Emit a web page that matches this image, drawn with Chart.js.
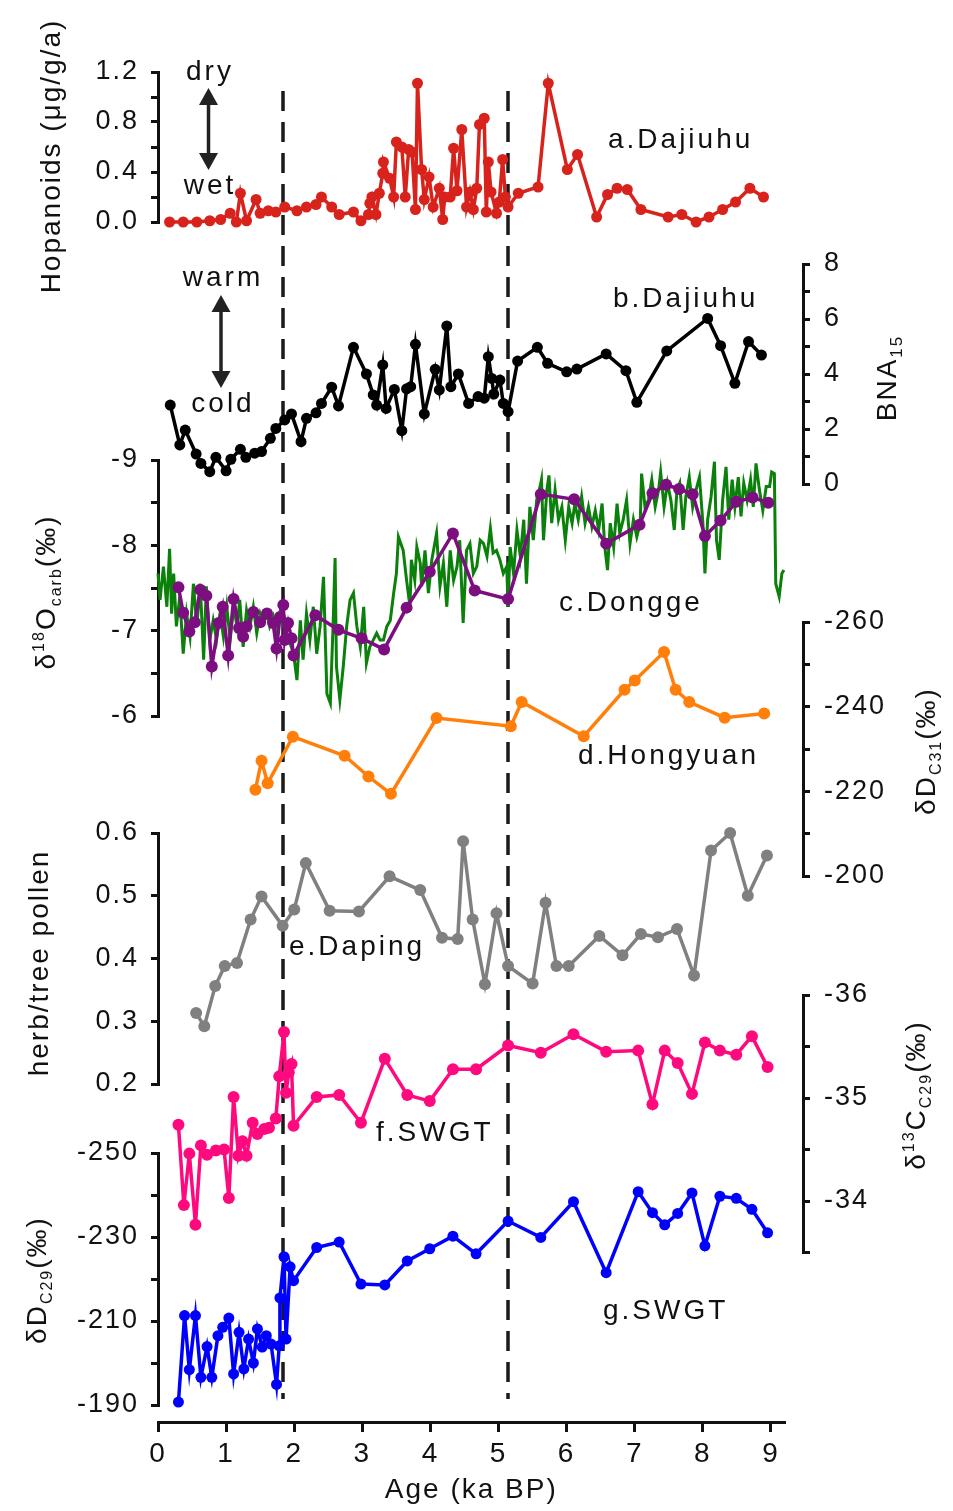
<!DOCTYPE html>
<html>
<head>
<meta charset="utf-8">
<script src="https://cdn.jsdelivr.net/npm/chart.js@4.4.1/dist/chart.umd.min.js"></script>
<style>
  html, body { margin: 0; padding: 0; background: #fff; }
  #wrap { position: relative; width: 953px; height: 1511px; }
  #wrap canvas { position: absolute; left: 0; top: 0; }
</style>
</head>
<body>
<div id="wrap">
  <canvas id="cAxis" width="953" height="1511"></canvas>
  <canvas id="cA" width="953" height="1511"></canvas>
  <canvas id="cB" width="953" height="1511"></canvas>
  <canvas id="cC" width="953" height="1511"></canvas>
  <canvas id="cD" width="953" height="1511"></canvas>
  <canvas id="cE" width="953" height="1511"></canvas>
  <canvas id="cF" width="953" height="1511"></canvas>
  <canvas id="cG" width="953" height="1511"></canvas>
</div>
<script>
// ---- data (ages in ka BP) ----
const hopAge = [0.17,0.37,0.57,0.76,0.92,1.06,1.15,1.21,1.30,1.44,1.50,1.62,1.73,1.86,2.04,2.18,2.32,2.40,2.55,2.66,2.87,2.98,3.09,3.11,3.14,3.20,3.25,3.30,3.31,3.40,3.46,3.50,3.58,3.63,3.68,3.73,3.78,3.81,3.87,3.91,3.98,4.04,4.13,4.18,4.21,4.29,4.34,4.39,4.46,4.53,4.58,4.63,4.68,4.72,4.79,4.82,4.85,4.89,4.97,5.01,5.06,5.10,5.14,5.29,5.58,5.73,6.01,6.16,6.44,6.60,6.74,6.89,7.09,7.49,7.69,7.90,8.09,8.29,8.48,8.69,8.89];
const hopVal = [0.00,0.00,0.00,0.01,0.02,0.07,0.00,0.23,0.01,0.18,0.07,0.09,0.08,0.12,0.09,0.12,0.14,0.20,0.12,0.06,0.08,0.01,0.06,0.15,0.20,0.06,0.23,0.39,0.48,0.35,0.20,0.64,0.60,0.20,0.58,0.56,0.10,1.11,0.42,0.18,0.36,0.12,0.27,0.02,0.20,0.20,0.59,0.25,0.74,0.12,0.24,0.10,0.27,0.78,0.83,0.08,0.48,0.24,0.07,0.16,0.50,0.20,0.12,0.23,0.28,1.11,0.42,0.54,0.04,0.22,0.27,0.26,0.10,0.04,0.06,0.00,0.04,0.10,0.16,0.27,0.20];

const bnaAge = [0.18,0.32,0.40,0.56,0.63,0.76,0.85,1.00,1.07,1.21,1.29,1.42,1.52,1.65,1.73,1.86,1.96,2.10,2.18,2.32,2.40,2.55,2.65,2.87,3.06,3.16,3.21,3.30,3.35,3.47,3.58,3.65,3.71,3.78,3.91,4.07,4.13,4.24,4.30,4.41,4.56,4.70,4.79,4.85,4.90,4.93,5.02,5.07,5.14,5.28,5.57,5.72,6.00,6.15,6.58,6.87,7.03,7.47,8.07,8.26,8.47,8.67,8.86];
const bnaVal = [2.87,1.42,1.96,1.09,0.75,0.45,0.97,0.48,0.90,1.26,0.97,1.12,1.18,1.66,2.02,2.33,2.55,1.54,2.39,2.59,2.93,3.52,2.84,4.97,4.00,3.24,2.87,4.33,2.75,3.44,1.94,3.46,3.54,5.08,2.55,4.17,3.42,5.75,3.54,4.00,2.93,3.18,3.12,4.63,3.84,3.27,3.78,2.93,2.63,4.47,4.97,4.39,4.08,4.18,4.73,4.12,2.97,4.84,6.02,5.03,3.66,5.18,4.69];

const dgAge = [
  0.00,0.03,0.08,0.13,0.17,0.20,0.23,0.27,0.32,0.37,
  0.42,0.47,0.52,0.57,0.62,0.67,0.71,0.76,0.81,0.86,
  0.91,0.96,1.01,1.06,1.11,1.16,1.20,1.25,1.30,1.35,
  1.40,1.45,1.50,1.55,1.60,1.64,1.69,1.74,1.79,1.84,
  1.89,1.94,1.99,2.04,2.09,2.13,2.18,2.23,2.28,2.33,
  2.38,2.43,2.48,2.53,2.57,2.60,2.62,2.67,2.72,2.77,
  2.82,2.87,2.92,2.97,3.02,3.06,3.11,3.16,3.21,3.26,
  3.31,3.36,3.41,3.46,3.50,3.53,3.60,3.65,3.70,3.72,
  3.77,3.80,3.85,3.87,3.92,3.97,4.02,4.09,4.14,4.19,
  4.24,4.29,4.34,4.39,4.43,4.48,4.53,4.58,4.63,4.68,
  4.73,4.78,4.83,4.88,4.92,4.97,5.02,5.07,5.12,5.14,
  5.17,5.22,5.27,5.32,5.37,5.41,5.46,5.51,5.56,5.61,
  5.63,5.66,5.71,5.74,5.78,5.83,5.88,5.93,5.98,6.03,
  6.08,6.12,6.17,6.22,6.27,6.32,6.37,6.42,6.47,6.52,
  6.56,6.60,6.64,6.69,6.74,6.78,6.83,6.88,6.93,6.98,
  7.03,7.08,7.10,7.15,7.20,7.25,7.30,7.35,7.38,7.43,
  7.48,7.53,7.58,7.62,7.66,7.71,7.75,7.80,7.85,7.90,
  7.95,8.00,8.03,8.07,8.12,8.17,8.20,8.24,8.29,8.34,
  8.38,8.43,8.47,8.52,8.56,8.60,8.65,8.70,8.74,8.78,
  8.83,8.88,8.93,8.98,9.01,9.05,9.07,9.12,9.16,9.19];
const dgVal = [
  -7.67,-7.36,-7.75,-7.28,-7.96,-7.20,-7.67,-7.05,-7.40,-6.73,
  -7.20,-6.93,-7.55,-7.05,-7.55,-6.66,-7.52,-6.89,-7.12,-6.89,
  -7.20,-6.93,-7.28,-6.89,-7.28,-7.05,-7.36,-6.81,-7.24,-7.05,
  -7.28,-6.97,-7.20,-7.09,-7.20,-7.05,-7.16,-6.89,-7.20,-7.05,
  -6.97,-6.85,-6.73,-6.42,-7.12,-6.66,-7.20,-6.89,-7.28,-6.73,
  -7.05,-7.63,-6.26,-6.15,-7.05,-7.85,-6.58,-6.19,-6.58,-7.05,
  -7.36,-7.44,-7.05,-6.81,-7.28,-6.62,-6.81,-6.89,-6.97,-6.89,
  -6.89,-7.05,-7.12,-7.44,-7.67,-8.10,-7.94,-7.59,-7.28,-7.83,
  -7.59,-7.98,-7.79,-7.52,-7.94,-7.44,-7.83,-8.14,-7.52,-7.79,
  -7.28,-7.94,-7.59,-7.75,-8.06,-7.09,-7.94,-8.02,-7.67,-7.75,
  -8.06,-8.02,-7.87,-8.20,-7.91,-7.94,-7.83,-7.67,-7.75,-7.28,
  -7.98,-7.67,-8.18,-7.87,-8.30,-7.55,-8.45,-8.06,-8.53,-8.69,
  -8.77,-8.06,-8.65,-8.82,-8.26,-8.65,-8.30,-8.45,-8.06,-8.45,
  -8.26,-8.49,-8.30,-8.57,-8.26,-8.45,-8.22,-8.41,-8.18,-8.49,
  -7.98,-7.71,-8.26,-7.98,-8.49,-8.14,-8.30,-8.53,-8.02,-8.30,
  -8.10,-8.26,-8.84,-8.45,-8.53,-8.77,-8.45,-8.65,-8.86,-8.45,
  -8.73,-8.53,-8.18,-8.65,-8.73,-8.18,-8.57,-8.80,-8.45,-8.65,
  -8.80,-8.26,-7.67,-8.30,-8.57,-8.98,-8.06,-7.83,-8.53,-8.92,
  -8.30,-8.77,-8.45,-8.80,-8.34,-8.73,-8.53,-8.77,-8.45,-8.96,
  -8.65,-8.41,-8.69,-8.69,-8.86,-8.84,-7.55,-7.40,-7.67,-7.71];

const dgAvgAge = [0.30,0.37,0.46,0.54,0.62,0.71,0.79,0.89,0.95,1.03,1.11,1.19,1.25,1.30,1.40,1.50,1.60,1.69,1.74,1.79,1.84,1.86,1.91,1.96,1.99,2.31,2.65,2.99,3.32,3.65,3.99,4.33,4.65,5.14,5.62,6.11,6.58,7.07,7.26,7.46,7.65,7.85,8.03,8.26,8.49,8.73,8.96];
const dgAvgVal = [-7.51,-7.21,-6.99,-7.10,-7.48,-7.41,-6.58,-7.09,-7.28,-6.71,-7.37,-7.03,-6.93,-7.05,-7.22,-7.10,-7.20,-7.09,-6.79,-7.16,-7.30,-6.89,-7.09,-6.91,-6.71,-7.18,-7.01,-6.91,-6.78,-7.27,-7.69,-8.14,-7.47,-7.37,-8.60,-8.54,-8.02,-8.24,-8.61,-8.71,-8.66,-8.60,-8.11,-8.29,-8.51,-8.56,-8.50];

const hyAge = [1.43,1.52,1.61,1.98,2.74,3.09,3.42,4.09,5.18,5.34,6.25,6.85,7.00,7.43,7.60,7.80,8.32,8.90];
const hyVal = [-220.4,-227.2,-221.9,-232.9,-228.4,-223.5,-219.4,-237.3,-235.4,-241.1,-233.0,-244.0,-246.2,-252.9,-244.0,-241.1,-237.4,-238.4];

const dpAge = [0.56,0.68,0.84,0.98,1.16,1.36,1.52,1.83,2.00,2.17,2.52,2.95,3.40,3.85,4.17,4.40,4.48,4.62,4.80,4.97,5.14,5.50,5.69,5.85,6.03,6.48,6.82,7.09,7.34,7.62,7.87,8.12,8.40,8.66,8.94];
const dpVal = [0.313,0.292,0.356,0.388,0.393,0.462,0.499,0.452,0.478,0.552,0.476,0.475,0.531,0.509,0.433,0.431,0.587,0.462,0.359,0.472,0.388,0.360,0.489,0.388,0.388,0.436,0.405,0.439,0.434,0.447,0.373,0.572,0.600,0.500,0.564];

const c13Age = [0.30,0.38,0.46,0.55,0.63,0.72,0.85,0.97,1.04,1.11,1.18,1.24,1.30,1.39,1.46,1.56,1.63,1.73,1.78,1.85,1.88,1.92,1.96,1.99,2.33,2.66,2.98,3.33,3.66,3.99,4.33,4.67,5.14,5.62,6.10,6.58,7.05,7.26,7.44,7.63,7.84,8.03,8.25,8.49,8.72,8.95];
const c13Val = [-34.74,-33.96,-34.46,-33.77,-34.54,-34.45,-34.49,-34.50,-34.03,-35.01,-34.44,-34.58,-34.44,-34.76,-34.65,-34.70,-34.71,-34.80,-35.21,-35.64,-35.05,-35.25,-35.33,-34.73,-35.01,-35.03,-34.76,-35.38,-35.03,-34.97,-35.28,-35.28,-35.51,-35.44,-35.62,-35.45,-35.46,-34.94,-35.46,-35.34,-35.04,-35.54,-35.46,-35.42,-35.60,-35.30];

const d29Age = [0.30,0.39,0.46,0.55,0.63,0.72,0.79,0.88,0.95,1.04,1.11,1.19,1.26,1.33,1.40,1.46,1.53,1.59,1.66,1.74,1.78,1.79,1.85,1.88,1.94,1.99,2.33,2.66,2.98,3.33,3.66,3.99,4.33,4.67,5.14,5.62,6.10,6.58,7.05,7.26,7.44,7.63,7.84,8.03,8.25,8.49,8.72,8.95];
const d29Val = [-190.7,-211.3,-198.4,-211.3,-196.6,-203.9,-196.6,-206.5,-208.5,-210.7,-197.4,-207.3,-198.6,-205.7,-200.0,-208.1,-203.8,-206.5,-204.5,-194.9,-204.1,-215.5,-225.3,-205.7,-222.9,-219.6,-227.5,-228.8,-218.8,-218.6,-224.3,-227.2,-230.2,-226.0,-233.8,-229.9,-238.4,-221.5,-240.8,-235.8,-232.9,-235.6,-240.5,-227.9,-239.7,-239.2,-236.6,-231.0];

// ---- ticks ----
const ageTicks = [0,1,2,3,4,5,6,7,8,9];
const hopTicks = [0,0.2,0.4,0.6,0.8,1.0,1.2];
const hopLabels = ['0.0','','0.4','','0.8','','1.2'];
const bnaTicks = [0,1,2,3,4,5,6,7,8];
const bnaLabels = ['0','','2','','4','','6','','8'];
const o18Ticks = [-9,-8.5,-8,-7.5,-7,-6.5,-6];
const o18Labels = ['-9','','-8','','-7','','-6'];
const d31Ticks = [-260,-250,-240,-230,-220,-210,-200];
const d31Labels = ['-260','','-240','','-220','','-200'];
const polTicks = [0.2,0.3,0.4,0.5,0.6];
const polLabels = ['0.2','0.3','0.4','0.5','0.6'];
const c13Ticks = [-36,-35.5,-35,-34.5,-34,-33.5];
const c13Labels = ['-36','','-35','','-34',''];
const d29Ticks = [-250,-240,-230,-220,-210,-200,-190];
const d29Labels = ['-250','','-230','','-210','','-190'];

const dashAges = [1.835, 5.14];

const FONT = '"Liberation Sans", Arial, sans-serif';
const W = 953, H = 1511;
Chart.defaults.font.family = FONT;
Chart.defaults.color = '#111';

const spacing = {
  id: 'spacing',
  beforeDraw(chart) { chart.ctx.letterSpacing = '2px'; }
};

function series(ages, vals, color, radius, width) {
  return {
    data: ages.map((a, i) => ({ x: a, y: vals[i] })),
    borderColor: color,
    backgroundColor: color,
    pointBackgroundColor: color,
    pointBorderWidth: 0,
    pointRadius: radius,
    borderWidth: width,
    tension: 0,
    clip: false
  };
}

function panel(id, side, top, bottom, y, datasets) {
  const left = side === 'left';
  return new Chart(document.getElementById(id), {
    type: 'line',
    data: { datasets: datasets },
    options: {
      responsive: false,
      animation: false,
      devicePixelRatio: 1,
      events: [],
      layout: { padding: { left: left ? 0 : 158, right: left ? 150 : 0, top: top, bottom: H - bottom } },
      plugins: { legend: { display: false }, tooltip: { enabled: false } },
      scales: {
        x: { type: 'linear', display: false, min: 0, max: 9.47 },
        y: {
          type: 'linear',
          position: side,
          min: y.min,
          max: y.max,
          reverse: !!y.reverse,
          afterFit: s => { s.width = left ? 158 : 150; },
          afterBuildTicks: s => { s.ticks = y.ticks.map(v => ({ value: v })); },
          border: { display: true, width: 3, color: '#111' },
          grid: { drawOnChartArea: false, drawTicks: true, tickLength: 7, lineWidth: 3, color: '#111' },
          ticks: {
            autoSkip: false,
            padding: left ? 12 : 14,
            color: '#111',
            font: { size: 27 },
            callback: (v, i) => y.labels[i]
          }
        }
      }
    },
    plugins: [spacing]
  });
}

// rotated axis title with super/subscripts
function richTitle(ctx, parts, cx, cy) {
  ctx.save();
  ctx.translate(cx, cy);
  ctx.rotate(-Math.PI / 2);
  ctx.letterSpacing = '2px';
  ctx.textBaseline = 'alphabetic';
  ctx.textAlign = 'left';
  ctx.fillStyle = '#111';
  let total = 0;
  parts.forEach(p => {
    ctx.font = p.s + 'px ' + FONT;
    p.w = ctx.measureText(p.t).width;
    total += p.w;
  });
  let x = -total / 2;
  parts.forEach(p => {
    ctx.font = p.s + 'px ' + FONT;
    ctx.fillText(p.t, x, 10 + (p.dy || 0));
    x += p.w;
  });
  ctx.restore();
}

function dblArrow(ctx, x, y1, y2) {
  const hl = 17, hw = 9.5;
  ctx.save();
  ctx.strokeStyle = '#222';
  ctx.fillStyle = '#222';
  ctx.lineWidth = 3.5;
  ctx.beginPath();
  ctx.moveTo(x, y1 + hl - 2);
  ctx.lineTo(x, y2 - hl + 2);
  ctx.stroke();
  ctx.beginPath();
  ctx.moveTo(x, y1); ctx.lineTo(x - hw, y1 + hl); ctx.lineTo(x + hw, y1 + hl); ctx.closePath();
  ctx.fill();
  ctx.beginPath();
  ctx.moveTo(x, y2); ctx.lineTo(x - hw, y2 - hl); ctx.lineTo(x + hw, y2 - hl); ctx.closePath();
  ctx.fill();
  ctx.restore();
}

const decor = {
  id: 'decor',
  afterDraw(chart) {
    const ctx = chart.ctx;
    const xs = chart.scales.x;
    // dashed reference lines
    ctx.save();
    ctx.strokeStyle = '#1a1a1a';
    ctx.lineWidth = 3.5;
    ctx.setLineDash([20, 11]);
    dashAges.forEach(a => {
      const px = Math.round(xs.getPixelForValue(a));
      ctx.beginPath();
      ctx.moveTo(px, 91);
      ctx.lineTo(px, 1399);
      ctx.stroke();
    });
    ctx.restore();

    // arrows + words
    dblArrow(ctx, 208.5, 88, 170);
    dblArrow(ctx, 221, 295, 388);
    ctx.save();
    ctx.fillStyle = '#111';
    ctx.letterSpacing = '3px';
    ctx.textBaseline = 'middle';
    ctx.textAlign = 'center';
    ctx.font = '28px ' + FONT;
    [['dry', 210, 72], ['wet', 210, 186], ['warm', 223, 278], ['cold', 223, 404]].forEach(t => ctx.fillText(t[0], t[1], t[2]));
    ctx.textAlign = 'left';
    [['a.Dajiuhu', 608, 140], ['b.Dajiuhu', 613, 299], ['c.Dongge', 559, 603], ['d.Hongyuan', 578, 756],
     ['e.Daping', 289, 947], ['f.SWGT', 376, 1133], ['g.SWGT', 603, 1311]].forEach(t => ctx.fillText(t[0], t[1], t[2]));
    ctx.restore();

    // axis titles
    richTitle(ctx, [{ t: 'Hopanoids (μg/g/a)', s: 28 }], 50, 156);
    richTitle(ctx, [{ t: 'BNA', s: 28 }, { t: '15', s: 17, dy: 6 }], 886, 378);
    richTitle(ctx, [{ t: 'δ', s: 28 }, { t: '18', s: 16, dy: -11 }, { t: 'O', s: 28 }, { t: 'carb', s: 16, dy: 6 }, { t: '(‰)', s: 28 }], 45, 592);
    richTitle(ctx, [{ t: 'δD', s: 28 }, { t: 'C31', s: 16, dy: 6 }, { t: '(‰)', s: 28 }], 925, 751);
    richTitle(ctx, [{ t: 'herb/tree pollen', s: 28 }], 38, 963);
    richTitle(ctx, [{ t: 'δ', s: 28 }, { t: '13', s: 16, dy: -11 }, { t: 'C', s: 28 }, { t: 'C29', s: 16, dy: 6 }, { t: '(‰)', s: 28 }], 915, 1095);
    richTitle(ctx, [{ t: 'δD', s: 28 }, { t: 'C29', s: 16, dy: 6 }, { t: '(‰)', s: 28 }], 36, 1280);
  }
};

// bottom age axis + shared decorations
new Chart(document.getElementById('cAxis'), {
  type: 'line',
  data: { datasets: [] },
  options: {
    responsive: false,
    animation: false,
    devicePixelRatio: 1,
    events: [],
    layout: { padding: { left: 158, right: W - 784.6, top: 60, bottom: 0 } },
    plugins: { legend: { display: false }, tooltip: { enabled: false } },
    scales: {
      x: {
        type: 'linear',
        position: 'bottom',
        min: 0,
        max: 9.2,
        afterFit: s => { s.height = 89; },
        afterBuildTicks: s => { s.ticks = ageTicks.map(v => ({ value: v })); },
        border: { display: true, width: 3, color: '#111' },
        grid: { drawOnChartArea: false, tickLength: 10, lineWidth: 3, color: '#111' },
        ticks: { autoSkip: false, maxRotation: 0, padding: 5, color: '#111', font: { size: 28 } },
        title: { display: true, text: 'Age (ka BP)', color: '#111', font: { size: 28 } }
      },
      y: { display: false, min: 0, max: 1 }
    }
  },
  plugins: [spacing, decor]
});

panel('cA', 'left', 72, 222, { min: 0, max: 1.2, ticks: hopTicks, labels: hopLabels },
  [series(hopAge, hopVal, '#d8231d', 5.5, 3.5)]);

panel('cB', 'right', 264, 484, { min: 0, max: 8, ticks: bnaTicks, labels: bnaLabels },
  [series(bnaAge, bnaVal, '#000000', 5.5, 3.5)]);

panel('cC', 'left', 460, 716, { min: -9, max: -6, reverse: true, ticks: o18Ticks, labels: o18Labels },
  [series(dgAvgAge, dgAvgVal, '#7d0e80', 6, 3.5), series(dgAge, dgVal, '#0b800b', 0, 3)]);

panel('cD', 'right', 622, 876, { min: -260, max: -200, reverse: true, ticks: d31Ticks, labels: d31Labels },
  [series(hyAge, hyVal, '#ff7f0a', 6, 3.5)]);

panel('cE', 'left', 833, 1084, { min: 0.2, max: 0.6, ticks: polTicks, labels: polLabels },
  [series(dpAge, dpVal, '#808080', 6, 3.5)]);

panel('cF', 'right', 995, 1252.5, { min: -36, max: -33.5, reverse: true, ticks: c13Ticks, labels: c13Labels },
  [series(c13Age, c13Val, '#ff0a7e', 6, 3.5)]);

panel('cG', 'left', 1153, 1405, { min: -250, max: -190, reverse: true, ticks: d29Ticks, labels: d29Labels },
  [series(d29Age, d29Val, '#0000ff', 5.5, 3.5)]);
</script>
</body>
</html>
